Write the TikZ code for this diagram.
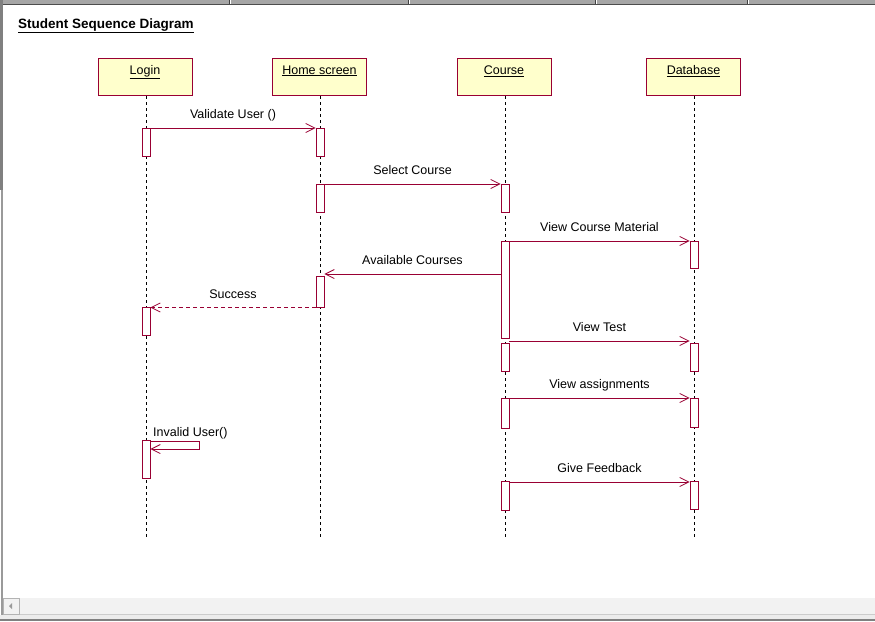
\documentclass[tikz,border=0pt]{standalone}
\usepackage{fontspec}
\setmainfont{Liberation Sans}
\usetikzlibrary{arrows.meta,calc}
\definecolor{umlred}{RGB}{153,0,51}
\definecolor{umlfill}{RGB}{255,255,204}
\definecolor{framegray}{RGB}{128,128,128}
\definecolor{scrollgray}{RGB}{242,242,242}
\tikzset{
  head/.style={draw=umlred, fill=umlfill, line width=0.9pt, minimum width=94pt, minimum height=37pt, inner sep=0pt, anchor=north},
  headtext/.style={font=\fontsize{12.5}{14}\selectfont, anchor=north, text=black},
  life/.style={black, line width=0.8pt, dash pattern=on 3pt off 3pt},
  act/.style={draw=umlred, fill=white, line width=0.9pt, minimum width=8pt, inner sep=0pt, anchor=north},
  msg/.style={umlred, line width=0.9pt, -{Straight Barb[length=9pt,width=9pt,line width=0.8pt]}},
  ret/.style={msg, dash pattern=on 4pt off 3pt},
  lbl/.style={font=\fontsize{12.5}{14}\selectfont, inner sep=0pt, text=black},
  mlbl/.style={lbl, midway, anchor=base, yshift=9.5pt}
}
\begin{document}
\begin{tikzpicture}[x=1pt,y=-1pt]
\useasboundingbox (0,0) rectangle (875,621);
\fill[white] (0,0) rectangle (875,621);
% window chrome
\fill[framegray!70] (0,0) rectangle (875,4);
\draw[framegray!60!black, line width=1pt] (0,4) -- (875,4);
\foreach \sx in {230,409,596,748} {\draw[white, line width=1pt] (\sx,0) -- (\sx,4); \draw[framegray!50!black, line width=0.6pt] (\sx-1,0) -- (\sx-1,4);}
\fill[framegray] (0,0) rectangle (3,190);
\fill[framegray!80] (1,190) rectangle (2.5,621);
\fill[scrollgray] (3,598) rectangle (875,614);
\draw[framegray!40, line width=0.8pt] (3,614.5) -- (875,614.5);
\fill[framegray!15] (0,615) rectangle (875,619);
\draw[framegray, line width=1.5pt] (0,620) -- (875,620);
\draw[framegray!60, fill=framegray!10, line width=0.8pt] (3.5,598.5) rectangle (19.5,614);
\fill[framegray!80] (9,606) -- (12,603) -- (12,609) -- cycle;
% title
\node[font=\fontsize{13.5}{15}\bfseries, anchor=base west, inner sep=0pt] (title) at (18,28) {\underline{Student Sequence Diagram}};
% heads
\node[head] (login) at (145,58) {};
\node[head] (home) at (319.5,58) {};
\node[head] (course) at (504,58) {};
\node[head] (db) at (693.5,58) {};
\node[headtext] at (login.north) [yshift=-4pt] {\underline{Login}};
\node[headtext] at (home.north) [yshift=-4pt] {\underline{Home screen}};
\node[headtext] at (course.north) [yshift=-4pt] {\underline{Course}};
\node[headtext] at (db.north) [yshift=-4pt] {\underline{Database}};
% lifelines
\coordinate (le) at (146,537);
\coordinate (he) at (320,537);
\coordinate (ce) at (505,537);
\coordinate (de) at (694,537);
\draw[life] (146,96) -- (le);
\draw[life] (320,96) -- (he);
\draw[life] (505,96) -- (ce);
\draw[life] (694,96) -- (de);
% activations
\node[act, minimum height=28pt] (l1) at (146,128) {};
\node[act, minimum height=28pt] (h1) at (320,128) {};
\node[act, minimum height=28pt] (h2) at (320,184) {};
\node[act, minimum height=28pt] (c1) at (505,184) {};
\node[act, minimum height=97pt] (c2) at (505,241) {};
\node[act, minimum height=27pt] (d1) at (694,241) {};
\node[act, minimum height=31pt] (h3) at (320,276) {};
\node[act, minimum height=28pt] (l2) at (146,307) {};
\node[act, minimum height=28pt] (c3) at (505,343) {};
\node[act, minimum height=28pt] (d2) at (694,343) {};
\node[act, minimum height=30pt] (c4) at (505,398) {};
\node[act, minimum height=29pt] (d3) at (694,398) {};
\node[act, minimum height=38pt] (l3) at (146,440) {};
\node[act, minimum height=29pt] (c5) at (505,481) {};
\node[act, minimum height=28pt] (d4) at (694,481) {};
% messages
\draw[msg] (l1.north east) -- (h1.north west) node[mlbl] {Validate User ()};
\draw[msg] (h2.north east) -- (c1.north west) node[mlbl] {Select Course};
\draw[msg] (c2.north east) -- (d1.north west) node[mlbl] {View Course Material};
\draw[msg] (c2.west |- 0,274) -- (h3.east |- 0,274) node[mlbl] {Available Courses};
\draw[ret] (h3.west |- 0,307.5) -- (l2.east |- 0,307.5) node[mlbl] {Success};
\draw[msg] (c3.east |- 0,341) -- (d2.west |- 0,341) node[mlbl] {View Test};
\draw[msg] (c4.north east) -- (d3.north west) node[mlbl] {View assignments};
\draw[msg] (c5.east |- 0,482) -- (d4.west |- 0,482) node[mlbl] {Give Feedback};
\coordinate (self1) at (199,441);
\coordinate (self2) at (199,449);
\draw[msg] (l3.east |- 0,441) -- (self1) -- (self2) -- (l3.east |- self2);
\node[lbl, anchor=base west] (inv) at (153,436) {Invalid User()};
\end{tikzpicture}
\end{document}
